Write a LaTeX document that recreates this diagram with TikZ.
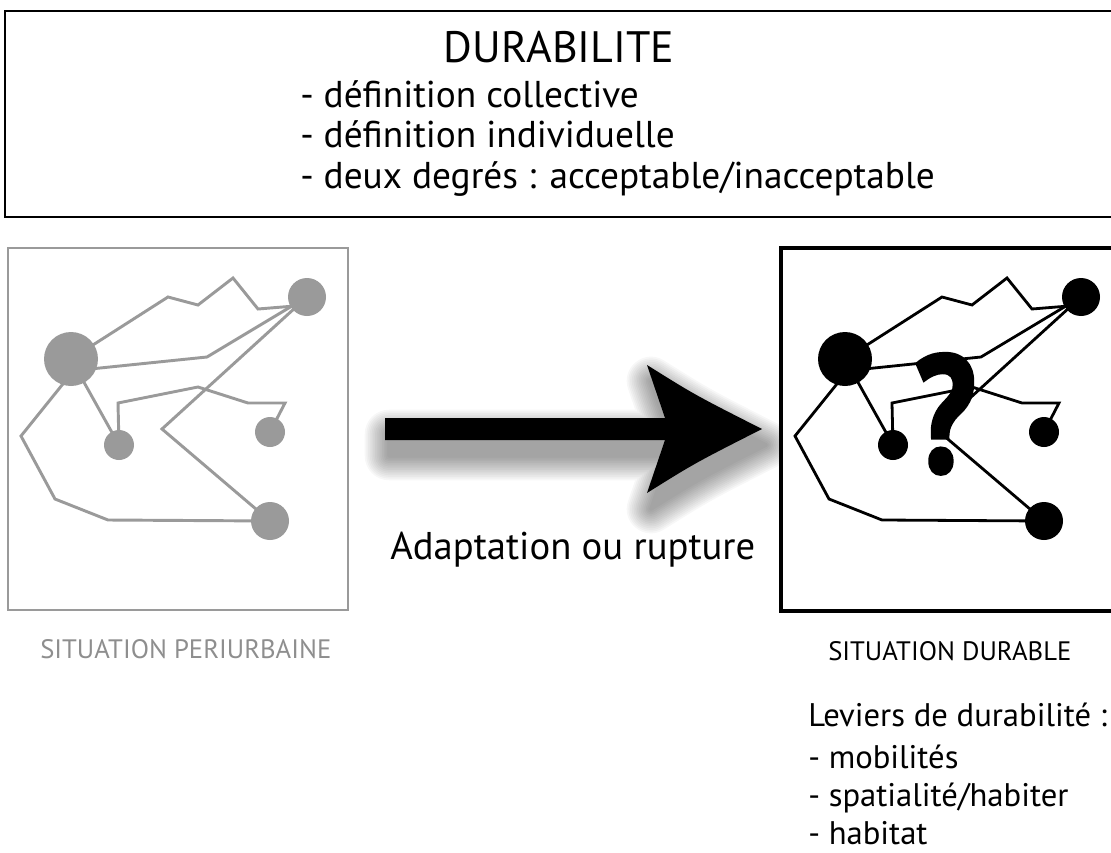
\documentclass[tikz,border=0pt]{standalone}
\usepackage{fontspec}
\setmainfont{PT Sans}
\usetikzlibrary{calc}
\definecolor{netgray}{HTML}{9A9A9A}
\definecolor{labgray}{HTML}{8E8E8E}
\tikzset{
  netnode/.style={circle, fill, inner sep=0pt, draw=none},
  netline/.style={line join=miter},
  txt/.style={inner sep=0pt, anchor=base west},
}
\newcommand{\netshape}{%
  \node[netnode, minimum size=40.5pt] (B) at (71,359) {};
  \node[netnode, minimum size=28.5pt] (TR) at (307,297) {};
  \node[netnode, minimum size=22.5pt] (SM) at (119,445) {};
  \node[netnode, minimum size=22.5pt] (SR) at (270,432) {};
  \node[netnode, minimum size=28.5pt] (BR) at (270,521) {};
  \draw[netline] (B.center) -- (168,297) -- (198,305) -- (233,278) -- (258,309) -- ([shift={(0,8)}]TR.center);
  \draw[netline] ([shift={(0,12)}]B.center) -- (207,357) -- (TR.center);
  \draw[netline] ([shift={(12,0)}]B.center) -- (21,436) -- (55,499) -- (108,520) -- (BR.center);
  \draw[netline] (B.center) -- (SM.center);
  \draw[netline] (SM.center) -- (118,403) -- (198,387) -- (248,403) -- (285,403) -- (SR.center);
  \draw[netline] (TR.center) -- (162,429) -- (BR.center);
}
\newcommand{\arrowshape}{(385,418) -- (665,418) -- (647,365) .. controls (695,395) .. (762,429) .. controls (695,463) .. (647,493) -- (665,440) -- (385,440) -- cycle}
\begin{document}
\begin{tikzpicture}[x=0.75pt, y=-0.75pt]
\useasboundingbox (0,0) rectangle (1111,853);
\clip (0,0) rectangle (1111,853);
% top box
\draw[line width=2.2pt] (5,11) rectangle (1120,217);
\node[inner sep=0pt, anchor=base, font=\fontsize{33}{36}\selectfont] (title) at (559,62) {DURABILITE};
\node[txt, font=\fontsize{28}{30}\selectfont] (d1) at (300,107) {- définition collective};
\node[txt, font=\fontsize{28}{30}\selectfont] (d2) at (300,147) {- définition individuelle};
\node[txt, font=\fontsize{28}{30}\selectfont] (d3) at (300,188) {- deux degrés : acceptable/inacceptable};
% arrow with shadow
\foreach \w in {1,...,14} {
  \begin{scope}[transparency group, opacity=0.032]
    \filldraw[black, line width=2.6*\w pt, line join=round, shift={(4,16)}] \arrowshape;
  \end{scope}
}
\fill[black] \arrowshape;
% left box
\draw[netgray, line width=1.9pt] (8,248) rectangle (348,610);
\begin{scope}[color=netgray, line width=2.2pt]
  \netshape
\end{scope}
% right box
\fill[white] (781,248) rectangle (1120,611);
\draw[black, line width=2.4pt] (781,248) rectangle (1120,611);
\begin{scope}[shift={(774,0)}, name prefix=R-, color=black, line width=2.1pt]
  \netshape
\end{scope}
\node[inner sep=0pt, anchor=base, font=\bfseries\addfontfeature{FakeBold=2.5}\fontsize{124}{124}\selectfont] (Q) at (945,472) {\scalebox{0.82}[1]{?}};
\node[txt, font=\fontsize{29}{34}\selectfont] (adapt) at (390,559) {Adaptation ou rupture};
% labels
\node[txt, text=labgray, font=\fontsize{20}{24}\selectfont] (lp) at (40,658) {SITUATION PERIURBAINE};
\node[txt, font=\fontsize{20}{24}\selectfont] (ld) at (828,660) {SITUATION DURABLE};
\node[txt, font=\fontsize{24.5}{29}\selectfont] (lev) at (808,726) {Leviers de durabilité :};
\node[txt, font=\fontsize{24.5}{29}\selectfont] (l1) at (808,768) {- mobilités};
\node[txt, font=\fontsize{24.5}{29}\selectfont] (l2) at (808,806) {- spatialité/habiter};
\node[txt, font=\fontsize{24.5}{29}\selectfont] (l3) at (808,844) {- habitat};
\end{tikzpicture}
\end{document}
